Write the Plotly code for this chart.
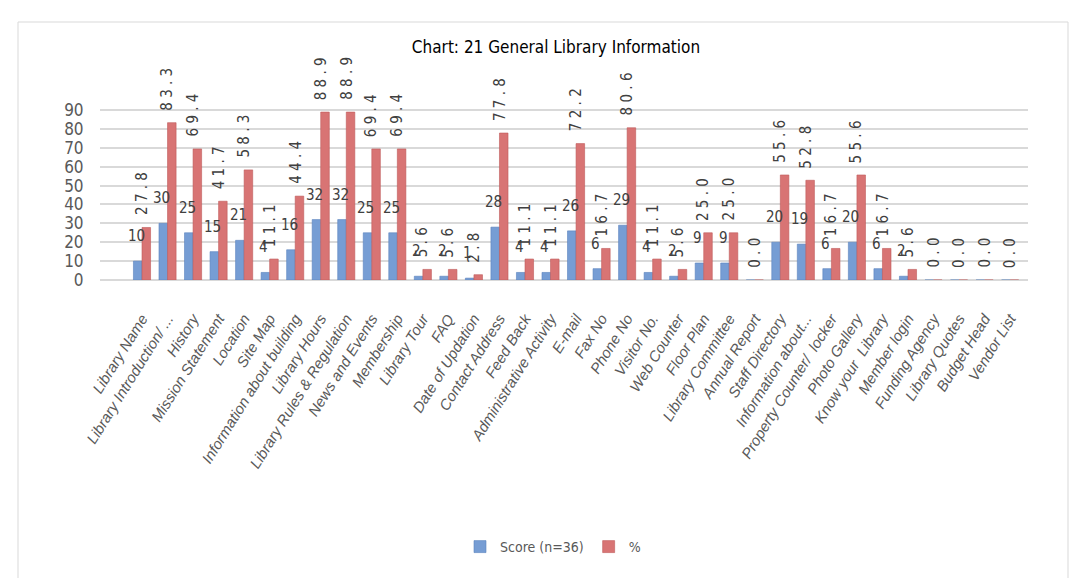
import plotly.graph_objects as go

categories = [
    "Library Name", "Library Introduction/ ...", "History", "Mission Statement",
    "Location", "Site Map", "Information about building", "Library Hours",
    "Library Rules & Regulation", "News and Events", "Membership", "Library Tour",
    "FAQ", "Date of Updation", "Contact Address", "Feed Back",
    "Administrative Activity", "E-mail", "Fax No", "Phone No", "Visitor No.",
    "Web Counter", "Floor Plan", "Library Committee", "Annual Report",
    "Staff Directory", "Information about...", "Property Counter/  locker",
    "Photo Gallery", "Know your  Library", "Member login", "Funding Agency",
    "Library Quotes", "Budget Head", "Vendor List",
]
score = [10, 30, 25, 15, 21, 4, 16, 32, 32, 25, 25, 2, 2, 1, 28, 4, 4, 26, 6, 29,
         4, 2, 9, 9, 0, 20, 19, 6, 20, 6, 2, 0, 0, 0, 0]
percent = [27.8, 83.3, 69.4, 41.7, 58.3, 11.1, 44.4, 88.9, 88.9, 69.4, 69.4, 5.6,
           5.6, 2.8, 77.8, 11.1, 11.1, 72.2, 16.7, 80.6, 11.1, 5.6, 25.0, 25.0,
           0.0, 55.6, 52.8, 16.7, 55.6, 16.7, 5.6, 0.0, 0.0, 0.0, 0.0]
y_ticks = [0, 10, 20, 30, 40, 50, 60, 70, 80, 90]

OFF = 8  # page body margin
W, H = 1083 - OFF, 578 - OFF
L, T = 100 - OFF, 100 - OFF
R = W - (1028 - OFF)
B = H - (280 - OFF)
plot_w = W - L - R
plot_h = H - T - B
px_per_unit = 170 / 90
y_max = plot_h / px_per_unit


def px(xp):
    return (xp - 100) / plot_w


def py(yp):
    return (280 - yp) / plot_h


BLUE = "#769DD4"
RED = "#D87474"
NARROW = "Liberation Sans Narrow, Arial Narrow, DejaVu Sans Condensed, sans-serif"
ITAL = "Liberation Sans, Arial, sans-serif"

fig = go.Figure()
fig.add_bar(x=categories, y=score, name="Score (n=36)", marker=dict(color=BLUE, line=dict(color="#5B83BE", width=0.6)))
fig.add_bar(x=categories, y=percent, name="%", marker=dict(color=RED, line=dict(color="#BF5B5B", width=0.6)))

annotations = []
for c, s, p in zip(categories, score, percent):
    if s > 0:
        annotations.append(dict(x=c, y=s, text=str(s), showarrow=False, xref="x", yref="y",
                                yanchor="bottom", xanchor="center", xshift=-6, yshift=14,
                                font=dict(family=NARROW, size=15, color="#404040")))
    annotations.append(dict(x=c, y=p, text=" ".join(f"{p:.1f}"), showarrow=False, xref="x", yref="y",
                            yanchor="bottom", xanchor="center", xshift=0, yshift=10, textangle=-90,
                            font=dict(family=NARROW, size=15, color="#404040")))

fig.update_layout(
    width=W, height=H,
    margin=dict(l=L, r=R, t=T, b=B),
    paper_bgcolor="white", plot_bgcolor="white",
    barmode="group", bargap=0.33, bargroupgap=0.0,
    title=dict(text="Chart: 21 General Library Information", x=(556 - OFF) / W, xanchor="center",
               y=1 - (47 - OFF) / H, yanchor="middle",
               font=dict(family=NARROW, size=17, color="#000000")),
    legend=dict(orientation="h", x=px(553), xanchor="center",
                y=py(547), yanchor="middle",
                font=dict(family=NARROW, size=14, color="#595959")),
    annotations=annotations,
    shapes=[dict(type="rect", xref="paper", yref="paper",
                 x0=px(18), x1=px(1068), y0=py(600), y1=py(22),
                 line=dict(color="#D9D9D9", width=1), layer="below")],
)
fig.update_xaxes(range=[-1.645, len(categories) - 1 + 0.7], tickangle=-58,
                 tickvals=categories, ticktext=[f"<i>{c}</i>" for c in categories],
                 tickfont=dict(family=ITAL, size=15, color="#595959", style="italic"),
                 ticks="outside", ticklen=23, tickcolor="rgba(0,0,0,0)",
                 showline=False, showgrid=False, zeroline=False)
fig.update_yaxes(range=[0, y_max], tickvals=y_ticks, ticks="outside", ticklen=12,
                 tickcolor="rgba(0,0,0,0)",
                 tickfont=dict(family=NARROW, size=17, color="#595959"),
                 showgrid=True, gridcolor="#D9D9D9", gridwidth=2,
                 zeroline=True, zerolinecolor="#D9D9D9", zerolinewidth=2, showline=False)

fig.write_html("out.html")
